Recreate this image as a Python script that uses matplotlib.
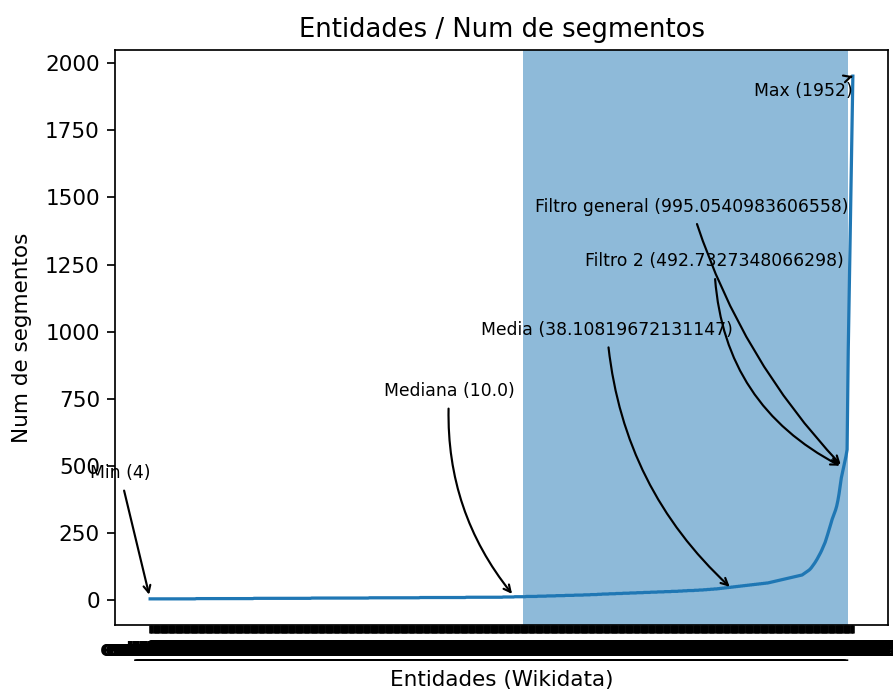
import matplotlib
matplotlib.use('Agg')
import matplotlib.pyplot as plt
import numpy as np

# Num de segmentos por entidad (ordenado de menor a mayor), leido del grafico
# tramo bajo: valor -> cuantas entidades lo tienen
valores_bajos = [4, 5, 6, 7, 8, 9, 10,
                 11, 12, 13, 14, 15, 16, 17, 18, 19, 20, 21,
                 22, 23, 24, 25, 26, 27, 28, 29, 30, 31, 32, 33, 34, 35, 36, 37]
repeticiones_bajos = [40, 50, 50, 50, 44, 40, 32,
                      10, 10, 10, 8, 8, 8, 8, 8, 6, 6, 4,
                      6, 6, 6, 6, 6, 6, 6, 6, 6, 6, 6, 4, 4, 6, 4, 4]
valores_medios = [38, 39, 40, 41, 42, 43, 44, 45, 46, 47, 48, 49, 50,
                  51, 52, 53, 54, 55, 56, 57, 58, 59, 60, 61, 62, 63]
repeticiones_medios = [3, 3, 3, 3, 2, 2, 2, 2, 2, 2, 2, 2, 2,
                       2, 2, 2, 2, 2, 2, 2, 2, 2, 2, 2, 2, 2]
valores_altos = [64, 65, 66, 67, 68, 69, 70, 71, 72, 73, 74, 75, 76, 77, 78,
                 79, 80, 81, 82, 83, 84, 85, 86, 87, 88, 89, 90, 91, 92, 93]
valores_cola = [96, 99, 102, 105, 108, 111,
                115, 120, 126, 132, 138, 145,
                152, 160, 168, 176, 185, 195,
                205, 215, 228, 242, 256, 270,
                285, 300, 312, 325, 335, 350,
                370, 395, 425, 455, 475, 495,
                515, 535, 560, 930, 1180, 1440, 1700, 1952]

segmentos = np.concatenate([np.repeat(valores_bajos, repeticiones_bajos),
                            np.repeat(valores_medios, repeticiones_medios),
                            valores_altos, valores_cola])
n = len(segmentos)
etiquetas = [f"ent_{i:04d}" for i in range(n)]

# Estadisticos mostrados en las anotaciones
minimo = 4
mediana = 10.0
media = 38.10819672131147
filtro_general = 995.0540983606558
filtro_2 = 492.7327348066298
maximo = 1952

idx_mediana = 316
idx_media = 505
idx_filtro_2 = 601
idx_filtro_general = 605

# Zona sombreada (indices)
zona_inicio = 323.4
zona_fin = 604.7

fig = plt.figure(figsize=(893 / 155, 691 / 155), dpi=155)
ax = fig.add_axes([115 / 893, 1 - 625 / 691, 773 / 893, 575 / 691])

ax.plot(range(n), segmentos)
ax.axvspan(zona_inicio, zona_fin, alpha=0.5)
ax.set_xticks(range(n))
ax.set_xticklabels(etiquetas)
ax.tick_params(axis='x', width=1.2)

flecha = dict(arrowstyle='->', connectionstyle='arc3,rad=0.2')
ax.annotate(f'Min ({minimo})', xy=(0, minimo), xytext=(0, minimo + 450),
            ha='right', fontsize=8, arrowprops=dict(arrowstyle='->'))
ax.annotate(f'Mediana ({mediana})', xy=(idx_mediana, mediana),
            xytext=(idx_mediana, mediana + 750), ha='right', fontsize=8, arrowprops=flecha)
ax.annotate(f'Media ({media})', xy=(idx_media, media),
            xytext=(idx_media, media + 950), ha='right', fontsize=8, arrowprops=flecha)
ax.annotate(f'Filtro general ({filtro_general})', xy=(idx_filtro_2, filtro_2),
            xytext=(idx_filtro_general, filtro_general + 452), ha='right', fontsize=8,
            arrowprops=dict(arrowstyle='->', connectionstyle='arc3,rad=0.12'))
ax.annotate(f'Filtro 2 ({filtro_2})', xy=(idx_filtro_2, filtro_2),
            xytext=(idx_filtro_2, filtro_2 + 750), ha='right', fontsize=8,
            arrowprops=dict(arrowstyle='->', connectionstyle='arc3,rad=0.3'))
ax.annotate(f'Max ({maximo})', xy=(n - 1, maximo), xytext=(n - 1, maximo - 75),
            ha='right', fontsize=8, arrowprops=dict(arrowstyle='->'))

ax.set_title('Entidades / Num de segmentos')
ax.set_xlabel('Entidades (Wikidata)')
ax.set_ylabel('Num de segmentos', labelpad=6)

fig.savefig('out.png', dpi=155)
